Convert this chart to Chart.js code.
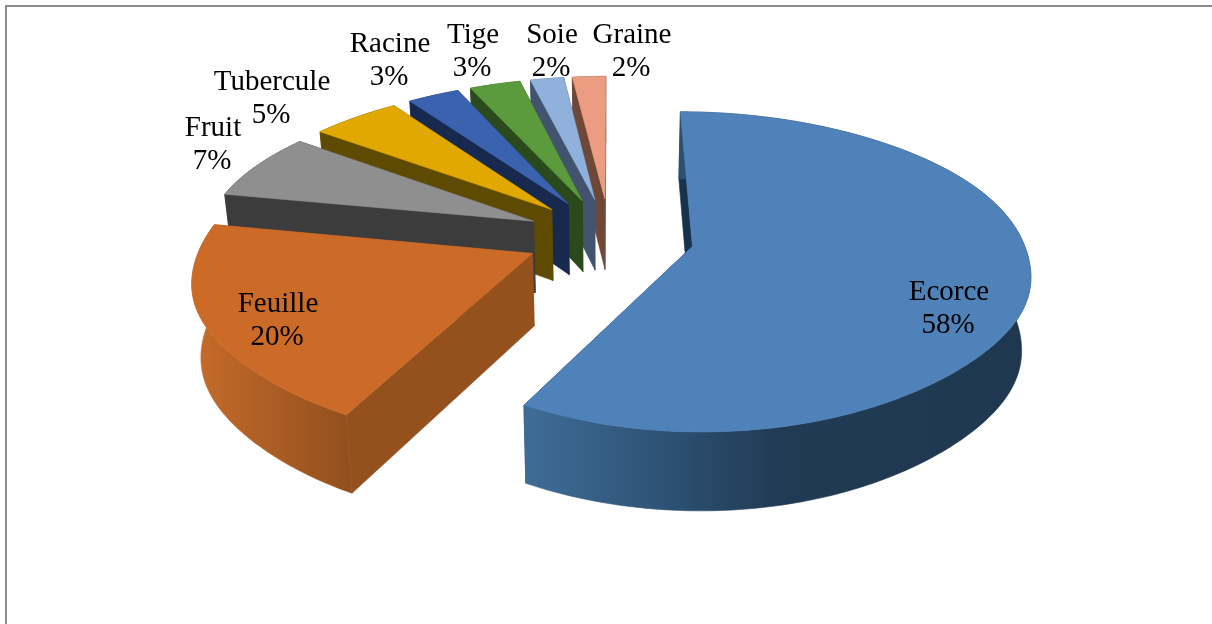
<!DOCTYPE html>
<html>
<head>
<meta charset="utf-8">
<style>
  html, body { margin: 0; padding: 0; background: #fff; }
  canvas { display: block; }
</style>
<script src="https://cdn.jsdelivr.net/npm/chart.js@4"></script>
</head>
<body>
<canvas id="pie" width="1212" height="624"></canvas>
<script>
// Plant parts used, share of the recorded uses (percent)
const parts = ['Ecorce', 'Feuille', 'Fruit', 'Tubercule', 'Racine', 'Tige', 'Soie', 'Graine'];
const shares = [58, 20, 7, 5, 3, 3, 2, 2];

const topColors = ['#4f82b9', '#cc6b28', '#8f8f8f', '#e0a800', '#3a62ae', '#5b9a3d', '#8fb1dc', '#ec9c80'];
const sideColors = ['#17324d', '#94511e', '#3c3c3c', '#5e4a00', '#17294f', '#2a4a1c', '#42536f', '#6f4737'];
const rimStops = [
  [[0, '#3f6c97'], [0.25, '#2f5578'], [0.5, '#213b55'], [1, '#1f3850']],
  [[0, '#c66c2a'], [1, '#93501e']]
];

// Centre of each label's first line: x, baseline y
const labelAnchors = [
  [949, 300], [278, 312], [213, 136], [272, 90],
  [390, 52], [473, 43], [552, 43], [632, 43]
];

const FONT = '29px "Liberation Serif"';
const LINE_GAP = 33;

// Tilted-disc geometry
const PIE_CX = 610, PIE_CY = 236.5;
const PIE_R = 328;
const EXPLODE = 84;
const SQUASH = 0.466;
const PERSP_X = 0.11, PERSP_Y = 0.158;
const FAR_CURVE = 0.06, NEAR_BULGE = 0.08;
const THICKNESS = 72, BASE_SHRINK = 0.978;

// Horizontal foreshortening: far points pull inward, near points swing outward
function widthDivisor(t) {
  let w = 1 - PERSP_X * t;
  if (t < 0) w += FAR_CURVE * t * t;
  w -= NEAR_BULGE * 0.25 * Math.exp(-Math.pow((t - 0.5) / 0.4, 2));
  return w;
}

function project(X, Y, lower) {
  const t = Y / PIE_R;
  const wy = 1 - PERSP_Y * t;
  let sx = X / widthDivisor(t);
  let sy = SQUASH * Y / wy;
  if (lower) {
    sx *= BASE_SHRINK;
    sy += THICKNESS / Math.sqrt(wy);
  }
  return [PIE_CX + sx, PIE_CY + sy];
}

function fillPoly(ctx, pts, fill) {
  ctx.beginPath();
  pts.forEach((p, i) => (i ? ctx.lineTo(p[0], p[1]) : ctx.moveTo(p[0], p[1])));
  ctx.closePath();
  ctx.fillStyle = fill;
  ctx.fill();
  ctx.strokeStyle = fill;
  ctx.lineWidth = 0.6;
  ctx.stroke();
}

// Turns each arc element's angles into a raised wedge pulled away from the centre
const wedge3d = {
  id: 'wedge3d',
  beforeDraw(chart) {
    const ctx = chart.ctx;
    ctx.save();
    ctx.fillStyle = '#8c8c8c';
    ctx.fillRect(5, 5, 1207, 2);
    ctx.fillRect(5, 5, 2, 619);
    ctx.restore();
  },
  beforeDatasetsDraw(chart) {
    const ctx = chart.ctx;
    const arcs = chart.getDatasetMeta(0).data;
    ctx.save();
    for (let i = arcs.length - 1; i >= 0; i--) {
      const { startAngle, endAngle } = arcs[i].getProps(['startAngle', 'endAngle']);
      const mid = (startAngle + endAngle) / 2;
      const ox = Math.cos(mid) * EXPLODE, oy = Math.sin(mid) * EXPLODE;

      const steps = Math.max(4, Math.ceil((endAngle - startAngle) / (Math.PI / 180)));
      const upper = [], lower = [];
      for (let s = 0; s <= steps; s++) {
        const a = startAngle + (endAngle - startAngle) * s / steps;
        const X = ox + Math.cos(a) * PIE_R, Y = oy + Math.sin(a) * PIE_R;
        upper.push(project(X, Y, false));
        lower.push(project(X, Y, true));
      }
      const apexTop = project(ox, oy, false), apexLow = project(ox, oy, true);
      const side = sideColors[i];

      // Cut faces
      fillPoly(ctx, [apexTop, upper[steps], lower[steps], apexLow], side);
      fillPoly(ctx, [apexTop, upper[0], lower[0], apexLow], side);

      // Curved rim
      let rimFill = side;
      if (rimStops[i]) {
        const xs = upper.map(p => p[0]);
        const g = ctx.createLinearGradient(Math.min(...xs), 0, Math.max(...xs), 0);
        rimStops[i].forEach(([at, c]) => g.addColorStop(at, c));
        rimFill = g;
      }
      fillPoly(ctx, upper.concat(lower.slice().reverse()), rimFill);

      // Top face
      fillPoly(ctx, [apexTop].concat(upper), topColors[i]);
    }
    ctx.restore();
    return false;
  },
  afterDraw(chart) {
    const ctx = chart.ctx;
    ctx.save();
    ctx.font = FONT;
    ctx.fillStyle = '#000';
    ctx.textAlign = 'center';
    ctx.textBaseline = 'alphabetic';
    parts.forEach((name, i) => {
      const [x, y] = labelAnchors[i];
      ctx.fillText(name, x, y);
      ctx.fillText(shares[i] + '%', x - 1, y + LINE_GAP);
    });
    ctx.restore();
  }
};

new Chart(document.getElementById('pie'), {
  type: 'pie',
  data: {
    labels: parts,
    datasets: [{ data: shares, backgroundColor: topColors, borderWidth: 0 }]
  },
  options: {
    responsive: false,
    animation: false,
    plugins: { legend: { display: false }, tooltip: { enabled: false } }
  },
  plugins: [wedge3d]
});
</script>
</body>
</html>
